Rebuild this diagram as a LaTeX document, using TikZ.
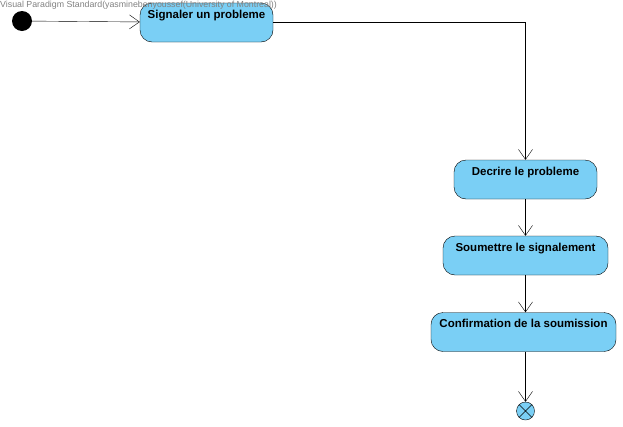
\documentclass[tikz,border=0pt]{standalone}
\usepackage{fontspec}
\setmainfont{Liberation Sans}
\usetikzlibrary{arrows.meta}
\definecolor{actblue}{HTML}{7ACFF5}

\begin{document}
\begin{tikzpicture}[x=1pt, y=-1pt,
      action/.style = {shape=rectangle, rounded corners=12pt,
        draw, fill=actblue, align=center,
        font=\bfseries\fontsize{11.5}{13}\selectfont,
        inner xsep=0pt, inner ysep=2pt, text height=13pt, text depth=22pt},
      flow/.style = {-{Straight Barb[length=10pt,width=14pt]}}]
      \useasboundingbox (0,0) rectangle (623,426);
      \node[circle, fill=black, minimum size=20pt, inner sep=0pt] (start) at (22,21) {};
      \node[action, minimum width=133pt] (signaler) at (206.5,22.5) {Signaler un probleme};
      \node[action, minimum width=143pt] (decrire) at (525.5,179.5) {Decrire le probleme};
      \node[action, minimum width=165pt] (soumettre) at (525.5,255.5) {Soumettre le signalement};
      \node[action, minimum width=185pt] (confirmation) at (523.5,332) {Confirmation de la soumission};
      \node[circle, draw, fill=actblue, minimum size=18pt, inner sep=0pt] (fin) at (525.5,411) {};
      \draw (fin.north east) -- (fin.south west) (fin.north west) -- (fin.south east);
      \draw[flow] (start) -- (signaler);
      \draw[flow] (signaler.east) -| (decrire.north);
      \draw[flow] (decrire) -- (soumettre);
      \draw[flow] (soumettre.south) -- (soumettre.south |- confirmation.north);
      \draw[flow] (confirmation.south -| fin) -- (fin);
      \node[anchor=north west, inner sep=0pt, text=gray,
        font=\fontsize{8.8}{10}\selectfont] (watermark) at (0,1)
        {Visual Paradigm Standard(yasminebenyoussef(University of Montreal))};
  \end{tikzpicture}
\end{document}
